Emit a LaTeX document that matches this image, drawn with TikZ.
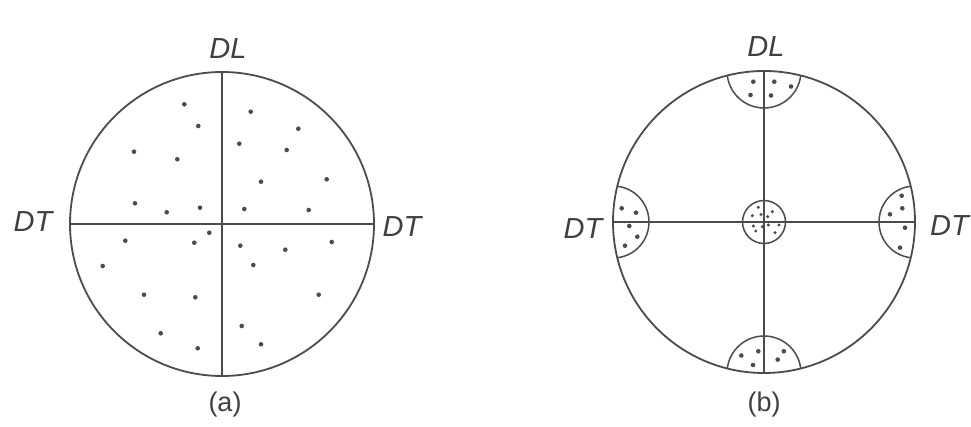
\documentclass[tikz,border=0pt]{standalone}
\usepackage{fontspec}
\setmainfont{Liberation Sans}
\begin{document}
\begin{tikzpicture}[x=1pt,y=-1pt,
  circ/.style={draw=black!70,line width=1.8pt},
  axis/.style={draw=black!70,line width=1.3pt},
  capline/.style={draw=black!70,line width=1.5pt},
  lbl/.style={text=black!75,font=\fontsize{29}{34}\selectfont\itshape,inner sep=0pt},
  sub/.style={text=black!75,font=\fontsize{27}{32}\selectfont,inner sep=0pt},
  pt/.style={fill=black!70,draw=none}]
\useasboundingbox[fill=white] (0,0) rectangle (971,427);
% ---------- (a) ----------
\coordinate (ca) at (222,224);
\coordinate (aT) at (222,72);
\coordinate (aB) at (222,376);
\coordinate (aL) at (70,224);
\coordinate (aR) at (374,224);
\draw[axis] (aT) -- (aB);
\draw[axis] (aL) -- (aR);
\draw[circ] (ca) circle (152);
\foreach \p in {(184.3,104.3),(198.3,126),(134,151.7),(177.3,159.3),(250.7,111.7),(298.3,128.7),(239.3,143.7),(286.7,150),(261,181.7),(326.7,179.3),(135,203.3),(166.7,212.3),(200,207.7),(244.3,209),(308.7,210),(209.3,232.7),(125.3,240.7),(194.3,242.7),(240.3,245.7),(285.3,249.7),(331.7,242),(102.7,266),(253.3,265),(144,294.7),(195.3,297.3),(318.7,294.7),(160.7,333.3),(241.7,326),(197.7,348.3),(261,344.3)}
  \fill[pt] \p circle (2.3);
\node[lbl] (aDL) at (228,49) {DL};
\node[lbl] (aDTl) at (33,222) {DT};
\node[lbl] (aDTr) at (402,227) {DT};
\node[sub] (alab) at (225,405) {(a)};
% ---------- (b) ----------
\coordinate (cb) at (764,222);
\coordinate (bT) at (764,71);
\coordinate (bB) at (764,373);
\coordinate (bL) at (613,222);
\coordinate (bR) at (915,222);
\draw[axis] (bT) -- (bB);
\draw[axis] (bL) -- (bR);
\begin{scope}
  \clip (cb) circle (151);
  \draw[capline] (bT) circle (37);
  \draw[capline] (bB) circle (37);
  \draw[capline] (bL) circle (36);
  \draw[capline] (bR) circle (36);
\end{scope}
\draw[capline] (cb) circle (21.5);
\draw[circ] (cb) circle (151);
\foreach \p in {(753.3,81.7),(774.3,81.7),(791,86.5),(750.5,95),(771,95.5),
  (741.3,355.5),(758.3,351.3),(783.8,351.3),(777.7,359.6),(753,365),
  (621.7,208.3),(636,212.7),(629.3,226),(637.3,236.7),(625,245.7),
  (901.7,195.7),(902.3,208.3),(890,214.3),(905,227.7),(900,247.7)}
  \fill[pt] \p circle (2.3);
\foreach \p in {(758.3,207.3),(772.3,211.7),(752.3,215.7),(761,214.5),(767.7,216.7),(753.3,226),(762.3,226.7),(768.3,225),(779,225),(755.7,231),(775,232.7)}
  \fill[pt] \p circle (1.7);
\node[lbl] (bDL) at (766,47) {DL};
\node[lbl] (bDTl) at (583,229) {DT};
\node[lbl,anchor=west] (bDTr) at (930,226) {DT};
\node[sub] (blab) at (764,405) {(b)};
\end{tikzpicture}
\end{document}
